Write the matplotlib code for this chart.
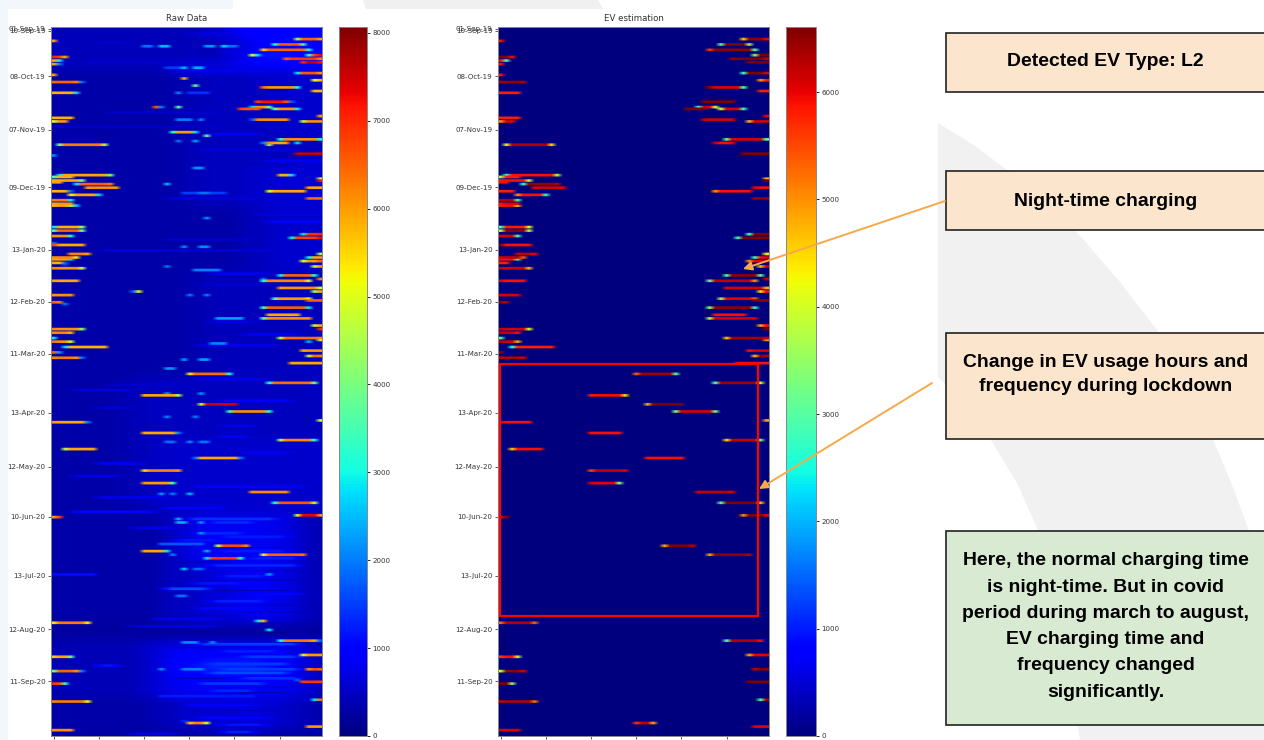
import matplotlib
matplotlib.use('Agg')
import matplotlib.pyplot as plt
import numpy as np
from matplotlib.patches import Rectangle, Polygon

n_rows = 396
n_cols = 48
raw_vmax = 8068
ev_vmax = 6606

tick_labels = ['01-Sep-19', '10-Sep-19', '08-Oct-19', '07-Nov-19', '09-Dec-19', '13-Jan-20', '12-Feb-20',
               '11-Mar-20', '13-Apr-20', '12-May-20', '10-Jun-20', '13-Jul-20', '12-Aug-20', '11-Sep-20']
tick_rows = [0.4, 1.5, 27, 57, 89, 124, 153, 182, 215, 245, 273, 306, 336, 365]
hour_ticks = [0, 8, 16, 24, 32, 40]

# charging sessions seen in both panels: row, first col, end col, first cell, middle, last cell
ev_events = [
    (6, 43, 48, 4600, 6500, 6000), (9, 39, 45, 3000, 6600, 3600), (12, 37, 46, 5600, 6500, 3000),
    (15, 45, 48, 3300, 6800, 7300), (17, 41, 48, 6500, 6900, 6200), (19, 44, 48, 7000, 7600, 7200),
    (7, 0, 1, 5900, 5900, 5900), (16, 0, 3, 7100, 6800, 5900), (18, 0, 2, 5900, 2900, 2900),
    (20, 0, 1, 5900, 5900, 5900), (26, 0, 1, 5900, 5900, 5900), (30, 0, 5, 6400, 6500, 6300),
    (36, 0, 4, 5800, 5800, 5800), (50, 0, 4, 5800, 5800, 5800), (52, 0, 3, 5000, 6000, 6000),
    (65, 1, 10, 4000, 6300, 4500), (82, 1, 11, 2800, 5900, 3700), (83, 0, 4, 3500, 5800, 5800),
    (85, 0, 6, 5800, 5900, 3900), (86, 0, 2, 5900, 5900, 5900), (87, 4, 11, 2800, 6500, 6300),
    (89, 6, 12, 6000, 6100, 6000), (91, 0, 3, 5800, 5800, 5800), (93, 3, 9, 5000, 5900, 2700),
    (96, 0, 4, 6300, 6300, 2900), (25, 43, 48, 2800, 6600, 6100), (29, 46, 48, 5000, 5800, 5800),
    (33, 37, 44, 6400, 6000, 3000), (35, 46, 48, 5800, 5800, 5800), (41, 36, 42, 6800, 7200, 6600),
    (44, 35, 39, 2700, 6100, 4000), (45, 33, 37, 6800, 6600, 6600), (45, 39, 44, 3900, 6100, 2800),
    (49, 47, 48, 6000, 6000, 6000), (51, 36, 42, 6200, 6100, 6100), (52, 44, 48, 4700, 6100, 6100),
    (62, 40, 48, 3200, 6100, 3000), (64, 38, 42, 6200, 5900, 6000), (70, 43, 48, 7600, 7600, 7500),
    (84, 47, 48, 4700, 4700, 4700), (85, 47, 48, 7100, 7100, 7100), (89, 45, 48, 6000, 5900, 5900),
    (91, 38, 45, 5000, 5900, 5900), (95, 45, 48, 6400, 6500, 6400), (98, 0, 4, 5900, 6000, 6000),
    (99, 0, 4, 5800, 5900, 4600), (111, 0, 6, 2800, 5800, 4200), (113, 0, 6, 3600, 6500, 3700),
    (116, 0, 4, 6100, 6100, 3000), (121, 0, 6, 6800, 5900, 5900), (126, 3, 7, 6200, 6200, 6000),
    (128, 0, 5, 6100, 6200, 5400), (129, 0, 4, 5900, 5900, 2800), (131, 0, 2, 5800, 5800, 5800),
    (134, 0, 6, 6200, 6100, 4700), (141, 0, 5, 6000, 5900, 5900), (149, 0, 4, 6100, 6100, 6100),
    (153, 0, 2, 6500, 6400, 6300), (168, 0, 6, 6200, 6100, 4000), (170, 0, 4, 6200, 6200, 5900),
    (173, 0, 1, 2900, 2900, 2900), (175, 0, 4, 6300, 6100, 4800), (178, 2, 10, 2700, 5800, 5800),
    (181, 0, 1, 6500, 6500, 6500), (184, 0, 5, 6200, 6300, 6100), (115, 44, 48, 2800, 6900, 7000),
    (117, 42, 48, 2900, 6800, 7300), (126, 47, 48, 4400, 4400, 4400), (128, 45, 48, 2900, 5900, 6000),
    (130, 44, 48, 5000, 6000, 6500), (133, 46, 48, 4700, 6000, 6100), (138, 40, 47, 2900, 6500, 3200),
    (140, 47, 48, 6200, 6200, 6200), (141, 37, 46, 3200, 6200, 5000), (145, 40, 48, 6000, 6100, 4800),
    (147, 46, 48, 4400, 5900, 5900), (151, 39, 46, 3600, 6000, 5200), (152, 45, 48, 6500, 6500, 6500),
    (156, 37, 46, 3500, 6500, 2800), (160, 38, 44, 5900, 5900, 5900), (162, 37, 46, 3800, 6100, 6100),
    (166, 46, 48, 4800, 5900, 5900), (168, 47, 48, 7000, 7000, 7000), (173, 40, 48, 4600, 6400, 6200),
    (174, 47, 48, 5000, 5000, 5000), (180, 44, 48, 5900, 6100, 6100), (183, 45, 48, 4700, 6500, 6300),
    (187, 42, 48, 5900, 5900, 5900), (193, 24, 32, 5300, 6400, 3000), (198, 38, 47, 3000, 6400, 4000),
    (205, 16, 23, 5800, 5900, 4400), (210, 26, 33, 4800, 7500, 7500), (214, 31, 39, 3300, 6100, 3300),
    (219, 47, 48, 4900, 4900, 4900), (220, 0, 6, 6000, 5900, 5900), (226, 16, 22, 5900, 5900, 5900),
    (230, 40, 47, 4500, 6200, 3200), (235, 2, 8, 4600, 5900, 5900), (240, 26, 33, 5900, 5900, 5900),
    (247, 16, 23, 5500, 6200, 6000), (254, 16, 22, 6100, 6000, 3300), (259, 35, 42, 6100, 6200, 6100),
    (265, 39, 47, 3100, 6600, 4700), (272, 43, 48, 5000, 7300, 6000), (273, 0, 2, 6000, 6000, 6800),
    (289, 29, 35, 4800, 6700, 6200), (294, 37, 45, 4900, 6500, 6300),
    (332, 0, 7, 5300, 6300, 5300), (342, 40, 47, 3000, 6300, 5900),
    (350, 44, 48, 4900, 6000, 6000), (351, 0, 4, 5600, 5900, 3900), (358, 45, 48, 6200, 6700, 6500),
    (359, 0, 5, 3900, 6500, 6100), (365, 44, 48, 6800, 6900, 6800), (366, 0, 3, 6900, 6700, 3500),
    (375, 46, 48, 2800, 6400, 6400), (376, 0, 7, 6200, 6300, 5200), (388, 24, 28, 5700, 6200, 4900),
    (390, 45, 48, 6000, 6000, 6000), (392, 0, 4, 6100, 6100, 6100),
]

# sessions and single cells that only the raw meter shows: row, first col, end col, level
raw_only = [
    (15, 35, 36, 5000), (15, 36, 37, 2700), (20, 1, 2, 2000), (30, 5, 6, 1800), (36, 4, 5, 2700),
    (52, 1, 2, 2700), (52, 2, 3, 3700), (71, 0, 1, 2100), (64, 37, 38, 2000), (64, 43, 44, 2700),
    (65, 38, 39, 4500), (41, 42, 43, 1700), (51, 35, 36, 1700), (82, 40, 43, 5800), (82, 42, 43, 2700),
    (91, 3, 4, 1800), (28, 23, 24, 5800), (32, 25, 26, 3800), (44, 18, 19, 6600),
    (44, 19, 20, 1900), (44, 22, 23, 3700), (58, 21, 22, 3100), (58, 22, 25, 6000), (58, 25, 26, 2700),
    (60, 27, 28, 3700), (10, 16, 18, 1900), (10, 19, 21, 2500), (10, 27, 29, 2200), (10, 30, 31, 2700),
    (10, 31, 33, 1900), (22, 23, 24, 2500), (22, 25, 27, 2400), (22, 20, 23, 1500), (36, 22, 23, 2000),
    (36, 26, 27, 2100), (36, 24, 28, 1400), (51, 22, 25, 2000), (51, 26, 27, 2000), (63, 22, 23, 1900),
    (63, 25, 26, 2300), (78, 25, 27, 2200), (87, 20, 21, 2500), (92, 23, 31, 1500), (92, 26, 28, 1900),
    (147, 14, 15, 1800), (147, 15, 16, 5000), (106, 27, 28, 2200), (122, 23, 24, 2100), (122, 26, 28, 2100),
    (133, 20, 21, 2000), (135, 25, 30, 2000), (149, 24, 25, 2000), (149, 27, 28, 2000), (162, 29, 34, 2300),
    (176, 28, 31, 2100), (185, 23, 24, 2300), (185, 26, 28, 2300), (190, 20, 22, 2200), (331, 36, 37, 2800),
    (331, 37, 38, 5800), (336, 38, 39, 2900), (204, 20, 21, 2200), (204, 26, 27, 2200), (217, 20, 21, 2100),
    (217, 25, 26, 2000), (231, 20, 22, 1900), (231, 24, 25, 2100), (231, 26, 28, 1900), (260, 19, 20, 2200),
    (260, 21, 22, 2000), (260, 24, 25, 2500), (274, 22, 23, 2400), (276, 22, 24, 2400), (276, 26, 27, 2200),
    (282, 26, 27, 2200), (288, 24, 25, 2500), (288, 19, 27, 1700), (294, 21, 22, 2000), (302, 23, 24, 2600),
    (302, 25, 27, 1800), (305, 38, 39, 2300), (305, 0, 8, 1100), (343, 23, 26, 2100), (343, 28, 29, 2100),
    (342, 47, 48, 1800), (358, 19, 20, 2100), (358, 23, 27, 2000), (373, 24, 25, 2500), (373, 26, 27, 2100),
    (373, 19, 36, 1200), (317, 22, 24, 1900), (140, 37, 38, 1800), (387, 23, 24, 1300), (364, 43, 44, 1700),
    (175, 45, 46, 2400), (145, 42, 44, 1700), (120, 0, 1, 1900), (132, 2, 3, 1500), (154, 2, 3, 1900),
    (181, 1, 2, 2200), (99, 4, 5, 2600), (131, 2, 3, 1800), (184, 5, 6, 1800), (220, 6, 7, 1900),
    (226, 22, 23, 2000), (240, 25, 26, 1900), (240, 33, 34, 1900), (292, 27, 28, 2400), (359, 5, 6, 1900),
    (292, 16, 20, 5900), (292, 20, 21, 2800), (296, 27, 28, 2800), (296, 28, 33, 6900), (296, 33, 34, 3000),
]

# rough base load blocks, read as first row, end row, first col, end col, level
bg_blocks = [
    (0, 396, 0, 48, 290), (0, 24, 0, 30, 430), (0, 6, 30, 48, 850), (1, 5, 34, 44, 1150),
    (6, 24, 33, 48, 800), (11, 20, 34, 46, 1150), (20, 24, 22, 48, 850), (24, 100, 24, 48, 450),
    (24, 60, 38, 48, 560), (76, 100, 36, 48, 620), (100, 135, 36, 48, 560), (135, 200, 26, 48, 440),
    (195, 270, 14, 48, 470), (230, 270, 20, 48, 560), (270, 336, 22, 45, 640), (275, 330, 24, 42, 830),
    (300, 330, 25, 30, 450), (333, 341, 0, 48, 230), (343, 374, 18, 46, 820), (352, 362, 24, 40, 1280),
    (343, 374, 0, 18, 390), (374, 396, 20, 44, 560), (376, 392, 30, 40, 640), (392, 396, 0, 48, 280),
]

# dim lines that cut through the daytime load, and lighter streaks: row, first col, end col, level
streaks = [
    (3, 25, 33, 700), (8, 8, 14, 520), (13, 30, 36, 750), (19, 6, 22, 560), (24, 22, 38, 800), (40, 24, 30, 300),
    (47, 10, 30, 560), (55, 0, 30, 520), (59, 28, 37, 800), (68, 26, 44, 640), (74, 38, 48, 850), (76, 30, 42, 300),
    (95, 20, 36, 650), (102, 0, 20, 260), (104, 36, 48, 700), (108, 38, 48, 860), (118, 20, 35, 560), (124, 8, 40, 600),
    (137, 28, 38, 800), (143, 26, 40, 600), (158, 14, 30, 300), (164, 28, 36, 720), (171, 34, 44, 840), (177, 26, 40, 780),
    (196, 26, 38, 760), (199, 10, 24, 560), (202, 4, 14, 680), (208, 30, 42, 980), (212, 8, 14, 650), (222, 30, 36, 760),
    (228, 30, 34, 940), (237, 34, 42, 850), (243, 8, 16, 900), (250, 4, 12, 780), (256, 26, 44, 1000), (262, 8, 20, 780),
    (268, 20, 30, 920), (270, 4, 18, 1050), (274, 24, 40, 1400), (276, 28, 36, 1350), (279, 14, 22, 760), (282, 26, 34, 1300),
    (284, 30, 42, 1220), (286, 22, 30, 1150), (290, 30, 40, 300), (292, 30, 42, 1200), (296, 35, 44, 1250), (298, 22, 32, 300),
    (300, 28, 44, 1300), (303, 36, 46, 380), (306, 30, 38, 1220), (308, 34, 44, 300), (310, 25, 34, 1150), (313, 20, 28, 1600),
    (314, 28, 42, 330), (316, 36, 44, 1050), (320, 28, 38, 1250), (322, 36, 44, 320), (324, 26, 36, 1050), (326, 34, 46, 320),
    (328, 24, 34, 330), (330, 18, 30, 760), (334, 14, 30, 640), (344, 26, 44, 1450), (346, 22, 30, 330), (348, 30, 40, 1250),
    (351, 34, 44, 1450), (353, 20, 26, 1000), (355, 28, 42, 1480), (358, 30, 44, 1500), (360, 28, 42, 1580), (363, 22, 32, 330),
    (363, 34, 44, 1380), (366, 26, 38, 1480), (368, 36, 44, 380), (370, 28, 36, 1300), (371, 32, 42, 340), (378, 24, 36, 950),
    (381, 30, 40, 320), (385, 26, 38, 950), (389, 30, 38, 1150), (393, 30, 36, 1250), (394, 14, 22, 720), (356, 8, 12, 1150),
]

# slide text
box_fill = '#fce5cd'
note_fill = '#d9ead3'
arrow_col = '#f6a94a'


def px_axes(x0, y0, x1, y1):
    return fig.add_axes([x0 / 1264, 1 - y1 / 740, (x1 - x0) / 1264, (y1 - y0) / 740])


def soften(z, size, axis):
    # same kind of blur the pasted screenshot has
    k = np.ones(size) / size
    pad = size // 2
    def one(v):
        return np.convolve(np.pad(v, pad, mode='edge'), k, mode='valid')
    return np.apply_along_axis(one, axis, z)


def build(base, rows, events):
    z = np.array(base, dtype=float)
    for r, a, b, val in rows:
        z[r, a:b] = val
    for r, a, b, first, mid, last in events:
        z[r, a:b] = mid
        z[r, a] = first
        z[r, b - 1] = last
    return z


def draw(ax, cax, z, vmax, title, cticks):
    # each row spreads over about 3 px in the screenshot, so show it a bit thicker
    thick = np.repeat(z, 2, axis=0)
    thick[1:] = np.maximum(thick[1:], thick[:-1])
    im = ax.imshow(thick, cmap='jet', vmin=0, vmax=vmax, aspect='auto', interpolation='bilinear',
                   interpolation_stage='rgba', extent=(-0.5, n_cols - 0.5, n_rows - 0.5, -0.5))
    ax.set_title(title, fontsize=6.2, color='#333333', pad=4.5)
    ax.set_yticks(tick_rows)
    ax.set_yticklabels(tick_labels, fontsize=5.1, color='#333333')
    ax.set_xticks(hour_ticks)
    ax.set_xticklabels([])
    ax.tick_params(length=2.5, width=0.6, pad=1.5, color='#444444')
    for s in ax.spines.values():
        s.set_color('#888888')
        s.set_linewidth(0.7)
    cb = fig.colorbar(im, cax=cax, ticks=cticks)
    cb.ax.tick_params(labelsize=5.1, length=2, width=0.6, pad=2, labelcolor='#333333')
    cb.outline.set_edgecolor('#888888')
    cb.outline.set_linewidth(0.7)


fig = plt.figure(figsize=(12.64, 7.4), dpi=100, facecolor='white')
plt.rcParams['font.family'] = 'DejaVu Sans'

# slide background behind the pasted chart
bg = fig.add_axes([0, 0, 1, 1], zorder=0)
bg.set_xlim(0, 1264)
bg.set_ylim(740, 0)
bg.axis('off')
bg.add_patch(Rectangle((0, 0), 233, 9, fc='#f2f7fb', ec='none'))
bg.add_patch(Rectangle((0, 0), 8, 740, fc='#f2f7fb', ec='none'))
bg.add_patch(Polygon([(363, 0), (598, 0), (603, 9), (366, 9)], fc='#f0f0f0', ec='none'))
bg.add_patch(Polygon([(938, 123), (975, 146), (1007, 170), (1045, 200), (1082, 238), (1120, 282), (1157, 330),
                      (1188, 385), (1213, 439), (1232, 485), (1248, 528), (1264, 575), (1264, 740), (1080, 740),
                      (1062, 640), (1037, 528), (1018, 485), (993, 443), (965, 405), (938, 377)],
                     fc='#f1f1f1', ec='none'))

base = np.full((n_rows, n_cols), 0.0)
for r0, r1, c0, c1, level in bg_blocks:
    base[r0:r1, c0:c1] = level
base = soften(soften(base, 9, 0), 9, 1)
for r, a, b, val in streaks:
    base[r, a:b] = val
base = soften(base, 3, 1)
raw_z = build(base, raw_only, ev_events)
ev_z = build(np.zeros((n_rows, n_cols)), [], ev_events)

ax1 = px_axes(51, 27, 322, 736)
cax1 = px_axes(339, 27, 367, 736)
draw(ax1, cax1, raw_z, raw_vmax, 'Raw Data', range(0, 9000, 1000))
ax2 = px_axes(498, 27, 769, 736)
cax2 = px_axes(786, 27, 816, 736)
draw(ax2, cax2, ev_z, ev_vmax, 'EV estimation', range(0, 7000, 1000))
for a in (ax1, ax2, cax1, cax2):
    a.set_zorder(1)

# notes and arrows on top
top = fig.add_axes([0, 0, 1, 1], zorder=2)
top.set_xlim(0, 1264)
top.set_ylim(740, 0)
top.axis('off')
top.patch.set_alpha(0)
top.add_patch(Rectangle((499.5, 364), 258, 252, fc='none', ec='#ff0000', lw=1.6))

boxes = [(33, 92, box_fill, 'Detected EV Type: L2', 62, 1.0),
         (171, 230, box_fill, 'Night-time charging', 201, 1.0),
         (333, 439, box_fill, 'Change in EV usage hours and\nfrequency during lockdown', 374.5, 1.48),
         (531, 725, note_fill, 'Here, the normal charging time\nis night-time. But in covid\nperiod during march to august,\n'
          'EV charging time and\nfrequency changed\nsignificantly.', 626.5, 1.71)]
for y0, y1, col, txt, ty, ls in boxes:
    top.add_patch(Rectangle((945.5, y0), 330, y1 - y0, fc=col, ec='#222222', lw=1.2))
    top.text(1105.5, ty, txt, ha='center', va='center', fontsize=13.95, fontweight='bold',
             family='Liberation Sans', linespacing=ls, color='#000000')

top.annotate('', xy=(743, 269), xytext=(945, 201),
             arrowprops=dict(arrowstyle='-|>', color=arrow_col, lw=1.4, mutation_scale=13, shrinkA=0, shrinkB=0))
top.annotate('', xy=(759, 489), xytext=(932, 383),
             arrowprops=dict(arrowstyle='-|>', color=arrow_col, lw=1.4, mutation_scale=13, shrinkA=0, shrinkB=0))

plt.savefig('out.png', dpi=100)
